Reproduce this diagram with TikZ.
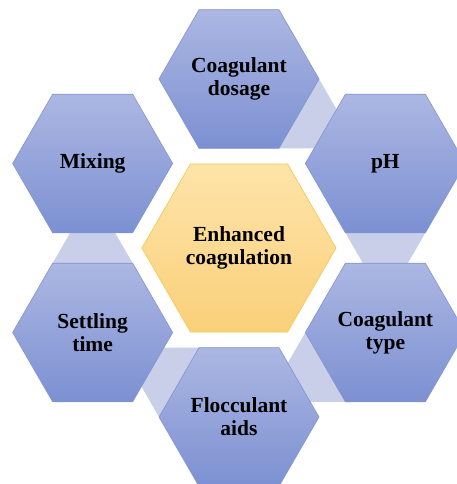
\documentclass[tikz,border=0pt]{standalone}
\usepackage{fontspec}
\setmainfont{Liberation Serif}
\usetikzlibrary{calc}
\definecolor{hextop}{RGB}{172,183,226}
\definecolor{hexbot}{RGB}{124,144,210}
\definecolor{hexline}{RGB}{130,148,208}
\definecolor{midtop}{RGB}{254,228,170}
\definecolor{midbot}{RGB}{250,208,122}
\definecolor{midline}{RGB}{244,204,90}
\definecolor{connfill}{RGB}{201,206,233}
\tikzset{
  hexout/.style={draw=hexline, line width=0.6pt, top color=hextop, bottom color=hexbot},
  hexmid/.style={draw=midline, line width=0.8pt, top color=midtop, bottom color=midbot},
  connband/.style={fill=connfill},
  lbl/.style={font=\fontsize{21.5}{23}\selectfont\bfseries, align=center, text=black, inner sep=0pt}
}
\begin{document}
\begin{tikzpicture}[x=1pt,y=1pt]
  \fill[white] (0,0) rectangle (457,484);
  \useasboundingbox (0,0) rectangle (457,484);
  \clip (0,0) rectangle (457,484);
  \coordinate (C) at (239,236);
  \foreach \n/\ang in {dos/90, ph/30, typ/-30, flo/-90, set/210, mix/150}
    {\coordinate (\n) at ($(C)+(\ang:169)$);}
  % connector bands between neighbouring hexagons
  \foreach \s/\t in {dos/-30, ph/-90, typ/210, flo/150, set/90}
    {\fill[connband] ($(\s)+(\t+30:80)$) -- ($(\s)+(\t+30:80)+(\t-30:37)$)
       -- ($(\s)+(\t-30:80)+(\t+30:37)$) -- ($(\s)+(\t-30:80)$) -- cycle;}
  % outer hexagons
  \foreach \n in {dos, ph, typ, flo, set, mix}
    {\path[hexout] (\n) +(0:80) -- +(60:80) -- +(120:80) -- +(180:80) -- +(240:80) -- +(300:80) -- cycle;}
  % centre hexagon
  \path[hexmid] (C) +(0:97) -- +(60:97) -- +(120:97) -- +(180:97) -- +(240:97) -- +(300:97) -- cycle;
  % labels
  \node[lbl] (tC) at (C) {Enhanced\\coagulation};
  \node[lbl] (tdos) at (dos) {Coagulant\\dosage};
  \node[lbl] (tph) at (ph) {pH};
  \node[lbl] (ttyp) at (typ) {Coagulant\\type};
  \node[lbl] (tflo) at (flo) {Flocculant\\aids};
  \node[lbl] (tset) at (set) {Settling\\time};
  \node[lbl] (tmix) at (mix) {Mixing};
\end{tikzpicture}
\end{document}
